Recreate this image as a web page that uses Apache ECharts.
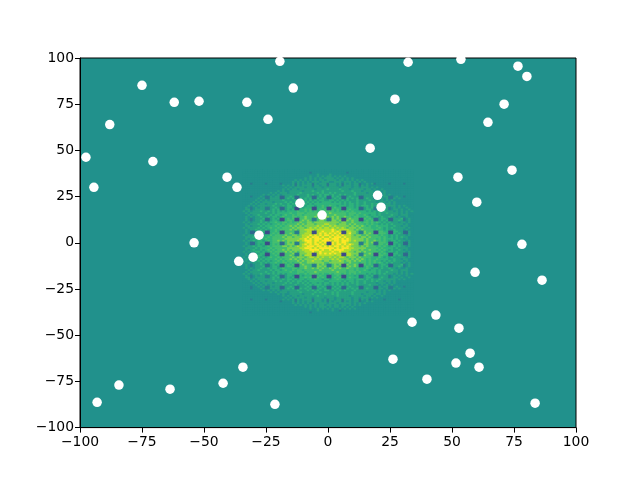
<!DOCTYPE html>
<html>
<head>
<meta charset="utf-8">
<style>html,body{margin:0;padding:0;background:#fff}#chart{width:640px;height:480px}</style>
<script src="https://cdn.jsdelivr.net/npm/echarts@6/dist/echarts.min.js"></script>
</head>
<body>
<div id="chart"></div>
<script>
const ticks = [-100, -75, -50, -25, 0, 25, 50, 75, 100];

// white dots
const pointX = [-19.4, 32.3, 53.6, 76.6, 80.2, -75, -14, -62, -52, -32.7, 27, 71, -24.2, 64.5, -88, 17, -97.6, -70.6, 74.2, -40.7, 52.4, -94.4, -36.7, 20, 60, -11.3, 21.4, -2.4, -27.8, -54, 78.2, -30.2, -36, 59.3, 86.3, 43.5, 33.9, 52.8, 57.3, 26.2, 51.6, 60.9, -34.3, 39.9, -42.3, -84.3, -63.7, -93.1, 83.5, -21.4];
const pointY = [98.2, 97.7, 99.3, 95.6, 90, 85.2, 83.7, 76, 76.6, 76, 77.7, 75, 66.8, 65.2, 64, 51.2, 46.3, 44, 39.3, 35.5, 35.5, 30, 30, 25.7, 22, 21.4, 19.3, 15, 4.1, 0, -0.8, -7.8, -10, -16, -20.2, -39.1, -43, -46.2, -59.7, -63, -65.1, -67.3, -67.3, -73.8, -76, -77, -79.2, -86.3, -86.8, -87.4];

// background cells, one digit per unit. top row is y=39, first column x=-34
const firstY = 39;
const firstX = -34;
const cellRows = [
  '333333333333333333333333333333333333333333333333333333333333333333333',
  '333333333333333333333333333233333333333333233333333333333333333333333',
  '333333333333333333333333333333433334333333333333333333333333333333333',
  '333333333333333333333333333433434344343434333333333333333333333333333',
  '333333333333333333333333343434343444434343434333333333333333333333333',
  '333333333333333333333434343434344344443443434343433333333333333333333',
  '333333333333333333334343434344434443344434443434343333333333333333333',
  '333233333233333233334243434424344424443424343442334342333332333332333',
  '333333333333333343434243444424434424443424443442434333333333333333333',
  '333333333333333334343444434434443444444344443443444343433333333333333',
  '333333333333333343434434444443444454444544434444434434334333333333333',
  '333333333333334343344444344454445444444454445444344443443433333333333',
  '333333333334343444344445444444545445454444444544443444343433333333333',
  '333333334343434344444454445454454554544545444544444444343434333333333',
  '333233343224344114454114445411454511545411454441144441143442234332333',
  '333333434224444114545115454511545411454511545451145441144342243433333',
  '333334343434444454444544454545455445545454544454444544434343433333333',
  '333343434444344445454454545454545555454545454454454444344434343333333',
  '333434344344454544545455454545555555555545455454454454544344343333333',
  '334343444444544454554545545554556556554555455454555454454444443434333',
  '343234344224454114554005455500556500565500555451145452244442343433433',
  '344234444224545114545005565600565600656500565551145542245442344343343',
  '434344454454545454555565565656566666656565656555554545454544434343434',
  '343444444544545555565566656666667667666666566656555555454454444343433',
  '334344544445455456556566566666766666676666566565565455454444544344433',
  '343434454454554565556656676667676776767667665665556545545445443433433',
  '343234445114545005656006676622676722767600676660065651145541144452343',
  '343234454114554005665006767622677622776700767660056561145451144542343',
  '434344454545565566565667667767777777777677667666566565654545444344343',
  '343444545454556565666676767776777887776777676766656565545454544443433',
  '344344454555565656676767677777878778787777767676765655655554454434433',
  '434444545456556566667677767878787887878787677767666655565454544444343',
  '343445454545565666676767788887888888987888877676766665655454454443433',
  '343114455005565006666227778800889888989800887762276660066550055441143',
  '343114554005656006676227788800898989898900897762276760066650054541143',
  '434445454556566667667767888989898998989898887677667666656554545444343',
  '344454545565666676776777889899989889899989887776776766665654545454433',
  '343445455655666667777778898989998998999898987777767666565655545443433',
  '434454554565667676777787899989989999899899987877767667665654554544343',
  '343114555005666116767227789989898900989899877772267671166650055441143',
  '343114545005656116777227898989989800989989898772277661166560054541143',
  '434454554565666677676787889998998989899898987776767666565654554544343',
  '344445455556566666777778899989899999989899988777776666656555545444433',
  '343454454565656676767777888999989889899998887776766766565654544543433',
  '434445545456566667676767788898898888988988877677676666656545545444343',
  '343114455005656006667227778800898989898800887772266760065650055441143',
  '343114554005565006676227688800888888878800887672276660066550054541143',
  '434444545456556566667677767887878778787887677767666655565454544444343',
  '344344454555565656676767677778787777878777767676765655655554454434433',
  '343444545454556565666676767787776776777876776767665656554545454443433',
  '434344454545565566565667667777777667777776676665665656565454544434343',
  '343234454114545005656006766622767622676700766760065651145541144452343',
  '343234445114554005665006676622776722677600676760056561145451144542343',
  '343434454454554565556656676676767667676766766565556545545445443433433',
  '334344544445455456556566566666676666766666566565565455454444544344433',
  '343444444544545555565566656667666666667666566656555555454454444343433',
  '434344454454545454555565565666656556566656565655554545454544434343434',
  '343234344224454114554005455500565500556500555451145452244442343433433',
  '344234444224545114545005565600656500565600565551145542245442344343343',
  '334343444444544454554545545556554554556554555455545454454444443434333',
  '333434344344454544545455454555555445555545455454454454544344343333333',
  '333343434444344445454454545455454554545454545454454444344434343333333',
  '333334343434444454444544454545554544545454544454444544434343433333333',
  '333233434224344114454114445411545411454511454441144441143442234332333',
  '333233343224444114545115454511454511545411545451145441144342243433333',
  '333333334343434344444454445454544554454545444544444444343434333333333',
  '333333333334343444344445444445454444545444445444443444343433333333333',
  '333333333333334343344444344454444544545444445444344443443433333333333',
  '333333333333333343434434444444544444445444434444434434334333333333333',
  '333333333333333334343444434434444344434444443443444343433333333333333',
  '333233333233333343434243444424443424434424443442434233333233333233333',
  '333333333333333233334243434424443424344424343442334343333333333333333',
  '333333333333333333334343434344344434443444443434343333333333333333333',
  '333333333333333333333434343434344344344344343434333333333333333333333',
  '333333333333333333333333343434344434344343434333333333333333333333333',
  '333333333333333333333333333433434343433434343433333333333333333333333',
  '333333333333333333333333333333433333433233333333333333333333333333333',
  '333333333333333333333333333233333333333333333333333333333333333333333',
  '333333333333333333333333333333333333333333333333333333333333333333333'
];

const levelColors = ['#3e4a89', '#31688e', '#2a7b8e', '#21918c', '#27a082', '#2fb47c', '#44bf70', '#7ad151', '#b5de2b', '#fde725'];

const cellAxis = [];
for (let v = -100; v <= 100; v++) cellAxis.push(String(v));

const cells = [];
cellRows.forEach((row, r) => {
  row.split('').forEach((ch, c) => {
    cells.push([firstX + c + 100, firstY - r + 100, Number(ch)]);
  });
});

const chart = echarts.init(document.getElementById('chart'));

function valueAxis(position, labelOpts) {
  return {
    type: 'value',
    position: position,
    min: ticks[0],
    max: ticks[ticks.length - 1],
    interval: 25,
    splitLine: { show: false },
    axisLine: { show: true, onZero: false, lineStyle: { color: '#000', width: 1 } },
    axisTick: { show: true, length: 5, lineStyle: { color: '#000', width: 1 } },
    axisLabel: Object.assign({
      color: '#000',
      fontFamily: 'DejaVu Sans',
      fontSize: 13.9,
      formatter: v => String(v).replace('-', '\u2212')
    }, labelOpts)
  };
}

chart.setOption({
  animation: false,
  grid: {
    left: 80, top: 58, width: 496, height: 369.6,
    show: true,
    backgroundColor: levelColors[3],
    borderColor: '#000',
    borderWidth: 1
  },
  xAxis: [
    valueAxis('bottom', { margin: 8 }),
    { type: 'category', data: cellAxis, show: false }
  ],
  yAxis: [
    valueAxis('left', { margin: 6, padding: [4, 0, 0, 0] }),
    { type: 'category', data: cellAxis, show: false }
  ],
  visualMap: {
    show: false,
    seriesIndex: 0,
    dimension: 2,
    min: 0,
    max: 9,
    inRange: { color: levelColors }
  },
  series: [
    {
      type: 'heatmap',
      xAxisIndex: 1,
      yAxisIndex: 1,
      data: cells,
      progressive: 0,
      itemStyle: { borderWidth: 0 },
      emphasis: { disabled: true }
    },
    {
      type: 'scatter',
      xAxisIndex: 0,
      yAxisIndex: 0,
      data: pointX.map((x, i) => [x, pointY[i]]),
      symbolSize: 9.5,
      clip: true,
      itemStyle: { color: '#fff', opacity: 1 },
      z: 5
    }
  ]
});
</script>
</body>
</html>
